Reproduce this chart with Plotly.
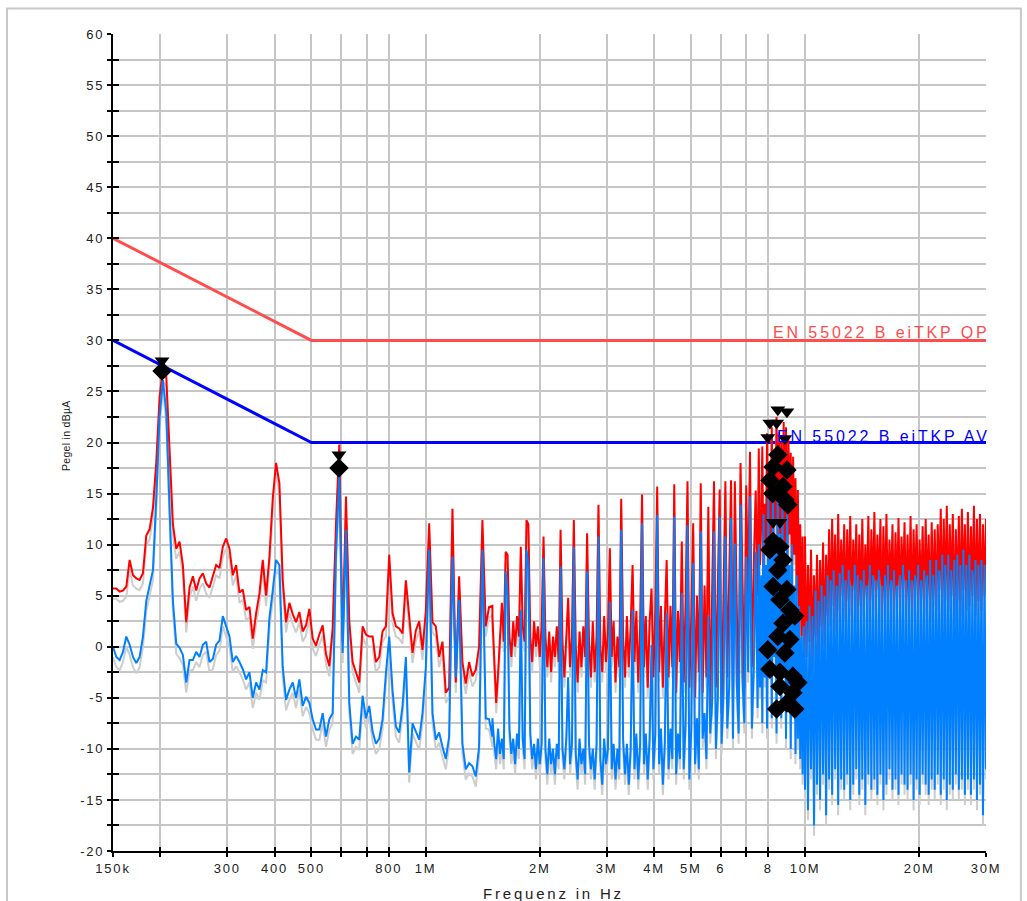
import numpy as np
import plotly.graph_objects as go

# ---------------- data ----------------
# measurement sweep segments (start Hz, end Hz); values are read per sweep point
seg_edges = [(150e3, 1.5e6), (1.5e6, 7.5e6), (7.5e6, 10e6), (10e6, 30e6)]

peak_seg1 = [5.7, 5.7, 5.4, 5.5, 5.9, 8.5, 7.0, 6.7, 6.55, 7.2,
             10.9, 11.5, 13.6, 18.0, 24.5, 27.1, 26.5, 18.5, 12.0, 9.6,
             10.3, 8.0, 2.4, 5.8, 6.9, 5.5, 6.7, 7.2, 6.2, 5.8,
             6.8, 8.0, 7.7, 9.8, 10.6, 9.6, 7.0, 8.0, 5.3, 5.6,
             3.6, 3.9, 0.8, 3.3, 5.2, 8.5, 5.0, 8.8, 14.5, 18.0,
             16.0, 6.5, 2.4, 4.3, 3.2, 2.4, 3.4, 1.5, 2.1, 3.7,
             0.8, 0.1, 1.2, 2.1, -0.7, -1.9, 1.8, 12.0, 19.8, 0.5,
             14.7, 2.5, -1.5, -2.6, -3.5, 2.0, 1.2, 1.0, 1.0, -1.5,
             -1.0, 1.5, 2.0, 9.0, 3.3, 2.0, 1.8, 1.3, 6.5, 3.0,
             -0.6, 1.6, 2.5, -0.3, 3.5, 12.1, 2.4, 2.0, -1.0, 0.5,
             -4.5, -4.0, 13.5, -3.5, 6.9, -1.5, -3.6, -1.5, -2.9, -2.25,
             0.0, 12.4, 2.0, 3.9, 4.0]
avg_seg1 = [0.0, -1.0, -1.3, -0.5, 1.0, 0.2, -1.0, -1.6, -1.0, 1.0,
            4.5, 6.0, 7.5, 14.5, 22.5, 26.1, 23.0, 13.5, 4.5, 0.3,
            -0.1, -0.8, -3.5, -1.3, -1.3, -0.5, -1.0, 0.2, 0.5, -1.5,
            -1.2, 0.2, 0.6, 3.0, 2.1, 1.0, -1.5, -0.9, -1.5, -2.2,
            -3.2, -2.5, -5.0, -3.5, -4.2, -2.3, -2.5, 2.8, 5.5, 8.5,
            8.0, -2.0, -5.2, -4.2, -3.5, -5.0, -3.2, -5.8, -4.9, -5.5,
            -7.1, -8.1, -8.1, -6.5, -8.8, -7.1, -6.5, 9.0, 16.7, -0.6,
            11.45, -5.5, -9.5, -8.8, -9.1, -4.8, -7.0, -5.8, -8.3, -9.5,
            -9.0, -7.1, -2.6, 1.0, -4.3, -7.8, -8.4, -5.8, -1.0, -12.3,
            -7.5, -8.4, -9.1, -6.5, -2.0, 9.5, -6.5, -9.1, -8.4, -9.8,
            -11.0, -8.8, 8.8, -3.0, 4.6, -9.5, -12.0, -11.4, -11.7, -12.7,
            -9.8, 9.5, -7.0, -7.1, -8.8]

peak_seg2 = [3.0, -2.0, -5.5, -2.6, 1.0, 4.3, 0.5, 9.3, 9.0, 1.0,
             -1.0, 2.5, 0.0, 3.0, 1.0, 9.8, 2.0, 0.5, 12.4, 12.0,
             1.0, -1.5, 2.5, 0.0, 2.0, -1.0, 2.0, 10.8, 1.0, -2.0,
             1.5, -2.5, 1.0, -1.0, 2.0, -1.5, 11.45, 0.5, -3.0, 1.5,
             4.8, -2.0, 1.0, 12.4, 0.0, -3.5, 1.5, -2.0, 2.0, -1.0,
             11.1, 0.5, -3.0, 2.5, -2.5, 1.0, 13.9, 0.0, -2.5, 3.0,
             -1.5, 1.5, 9.65, -1.0, 2.5, -3.5, 1.0, -2.0, 14.5, 1.0,
             -3.0, 3.0, -2.0, 2.0, 8.0, -1.5, 3.5, -3.5, 2.0, 14.9,
             -2.0, 3.0, -4.0, 2.5, 5.7, -3.0, 3.5, 15.7, -2.5, 4.0,
             -4.0, 2.5, 8.5, -3.0, 4.0, -2.0, 15.9, -4.5, 3.5, -1.5,
             10.3, -3.5, 4.5, 16.2, -4.0, 3.0, 12.1, -5.0, 5.0, -2.5,
             16.0, -4.5, 6.0, -3.0, 13.7, -6.0, 5.5, 16.2, -4.0, 7.0,
             15.4, -6.5, 6.0, 16.2, -3.0, 7.5, 16.3, -5.0, 16.2, 4.0,
             -5.5, 18.0, 6.0, -4.0, 15.8, 5.0, 19.1, -2.0, 8.0, 15.3,
             5.0]
avg_seg2 = [-7.0, -9.5, -11.0, -8.0, -10.5, -9.0, -11.0, 7.4, 5.0, -8.0,
            -10.5, -9.0, -11.5, -8.5, -10.0, 3.6, -9.0, -11.0, 9.5, 8.0,
            -8.5, -11.0, -9.5, -12.0, -9.0, -11.5, -9.5, 8.7, -10.0, -12.5,
            -9.0, -11.5, -10.0, -12.5, -9.5, -11.0, 7.85, -10.0, -12.0, -9.0,
            -3.0, -11.5, -9.5, 9.8, -10.5, -13.0, -9.0, -11.5, -10.0, -12.5,
            7.4, -9.5, -12.0, -10.0, -13.0, -9.5, 10.8, -11.0, -13.5, -9.0,
            -11.5, -10.0, 4.4, -12.0, -9.5, -13.0, -10.0, -12.0, 11.45, -9.0,
            -12.5, -9.5, -13.5, -10.0, 3.6, -12.0, -8.5, -13.0, -9.5, 12.1,
            -11.5, -8.5, -13.0, -9.0, 0.2, -12.0, -8.5, 12.9, -11.5, -8.0,
            -13.5, -9.5, 3.3, -12.0, -8.0, -11.0, 12.75, -12.5, -8.5, -11.0,
            5.25, -12.0, -7.5, 11.9, -13.0, -8.0, 8.2, -11.5, -7.0, -12.0,
            11.3, -9.0, -6.5, -11.0, 3.1, -8.5, -5.5, 11.3, -10.0, -5.0,
            12.75, -9.5, -4.5, 10.8, -8.0, -4.0, 12.6, -9.0, 10.1, -3.5,
            -8.5, 13.9, -3.0, -7.5, 8.8, -2.5, 14.7, -8.0, -2.0, 9.3,
            -6.0]

peak_seg3 = [5.0, 19.4, 8.0, 12.0, 19.6, 6.0, 14.0, 9.0, 20.9, 7.0,
             18.0, 10.0, 21.5, 8.0, 19.0, 12.0, 22.5, 9.0, 21.0, 11.0,
             20.0, 8.0, 22.0, 10.0, 21.5, 7.0, 20.5, 11.0, 19.0, 6.0,
             18.6, 9.0, 16.5, 5.0, 15.35, 3.0, 12.0, 1.0, 10.8, 0.0,
             4.0]
avg_seg3 = [-6.0, 10.0, -4.0, 7.0, -7.5, 13.0, -3.0, 8.0, -8.0, 15.0,
            -2.0, 9.0, -7.0, 16.0, -1.0, 10.0, -8.5, 15.5, -3.0, 11.0,
            -7.0, 14.0, -2.0, 9.0, -9.0, 13.0, -4.0, 8.0, -10.0, 10.0,
            -6.0, 6.0, -10.5, 7.0, -9.0, 4.0, -11.0, 1.0, -12.5, 2.0,
            -13.5]

peak_seg4 = [10.8, -1.0, 8.0, 0.5, 9.5, -2.0, 7.0, 1.0, 9.0, -1.5,
             8.5, 2.0, 10.2, 0.0, 9.0, 3.0, 11.5, 2.0, 12.5, 4.0,
             11.0, 1.5, 13.0, 3.5, 10.5, 5.0, 12.0, 2.5, 11.5, 4.5,
             12.8, 3.0, 10.5, 5.5, 12.0, 2.0, 11.0, 4.0, 12.5, 3.0,
             10.0, 5.0, 12.8, 2.5, 11.5, 4.5, 13.2, 3.5, 11.0, 5.5,
             12.5, 2.0, 11.8, 4.0, 13.0, 3.0, 10.5, 5.0, 12.0, 2.5,
             11.2, 4.5, 12.6, 3.5, 10.8, 5.5, 12.2, 3.0, 11.0, 4.0,
             12.8, 2.5, 11.5, 5.0, 12.0, 3.5, 10.5, 4.5, 11.8, 3.0,
             12.5, 5.0, 11.0, 2.5, 12.2, 4.0, 11.5, 3.5, 12.0, 5.5,
             13.5, 3.0, 12.5, 4.5, 13.8, 3.5, 12.0, 5.0, 13.0, 2.5,
             11.5, 4.5, 12.8, 3.0, 13.5, 5.5, 12.0, 3.5, 13.2, 4.0,
             11.8, 5.0, 13.8, 3.0, 12.5, 4.5, 13.0, 3.5, 12.0, 5.0,
             12.5]
avg_seg4 = [-14.0, 2.5, -16.0, 4.0, -12.0, 3.0, -17.5, 5.5, -13.5, 4.5,
            -15.0, 6.0, -12.5, 5.0, -16.5, 7.0, -13.0, 6.5, -14.5, 7.5,
            -12.0, 6.0, -15.5, 7.2, -13.0, 8.0, -14.0, 6.5, -12.5, 7.5,
            -15.0, 6.0, -13.5, 8.0, -12.0, 7.0, -14.5, 6.5, -13.0, 7.5,
            -15.5, 6.0, -12.5, 8.0, -14.0, 7.0, -13.0, 6.5, -14.5, 7.5,
            -12.5, 6.0, -15.0, 7.0, -13.5, 8.0, -12.0, 6.5, -14.0, 7.5,
            -13.0, 6.0, -14.5, 7.0, -12.5, 8.0, -13.5, 6.5, -14.0, 7.5,
            -12.5, 6.5, -15.0, 7.0, -13.0, 8.0, -14.5, 6.5, -12.5, 7.5,
            -13.5, 7.0, -14.5, 8.5, -13.0, 7.0, -14.0, 8.5, -12.5, 7.5,
            -14.5, 9.0, -13.0, 8.0, -15.0, 9.0, -13.5, 7.5, -14.0, 8.5,
            -12.5, 9.0, -14.0, 8.0, -13.0, 9.5, -14.5, 8.0, -13.0, 9.0,
            -14.5, 7.5, -13.0, 8.5, -15.0, 8.0, -13.5, 8.5, -16.5, 8.0,
            -12.0]

# limit lines EN 55022 B
limit_freq = [150e3, 500e3, 30e6]
limit_qp = [40, 30, 30]
limit_av = [30, 20, 20]
limit_names = ["EN 55022 B eiTKP QP", "EN 55022 B eiTKP AV"]

# final measurement markers (peak: triangles, average: diamonds)
pk_mark_freq = [202e3, 591e3, 8.48e6, 8.96e6, 8.08e6, 8.42e6, 7.98e6, 8.85e6,
                8.24e6, 8.59e6]
pk_mark_val = [28.0, 18.8, 23.2, 23.0, 21.9, 21.9, 20.5, 20.4, 12.2, 12.2]
av_mark_freq = [202e3, 591e3, 8.48e6, 8.24e6, 8.96e6, 8.08e6, 8.75e6, 8.22e6,
                8.85e6, 9.01e6, 8.24e6, 8.59e6, 8.08e6, 8.75e6, 8.48e6, 8.24e6,
                8.96e6, 8.59e6, 9.12e6, 9.4e6, 8.75e6, 8.48e6, 9.12e6, 7.98e6,
                8.85e6, 8.08e6, 8.59e6, 9.29e6, 9.58e6, 8.59e6, 9.29e6, 8.42e6,
                9.4e6, 8.96e6]
av_mark_val = [27.0, 17.5, 18.8, 17.6, 17.3, 16.3, 15.7, 15.0,
               14.4, 13.9, 10.3, 9.8, 9.5, 8.5, 7.5, 5.9,
               5.6, 4.6, 3.6, 3.0, 2.3, 1.0, 0.7, -0.3,
               -0.6, -2.2, -2.5, -2.9, -3.5, -3.9, -4.5, -6.1,
               -6.1, -5.5]

x_tickvals = [150e3, 200e3, 300e3, 400e3, 500e3, 600e3, 700e3, 800e3, 1e6,
              2e6, 3e6, 4e6, 5e6, 6e6, 7e6, 8e6, 10e6, 20e6, 30e6]
x_ticktext = ["150k", "", "300", "400", "500", "", "", "800", "1M",
              "2M", "3M", "4M", "5M", "6", "", "8", "10M", "20M", "30M"]
y_tickvals = [-20, -15, -10, -5, 0, 5, 10, 15, 20, 25, 30, 35, 40, 45, 50, 55, 60]
y_ticktext = ["-20", "-15", "-10", "-5", "0", "5", "10", "15", "20", "25",
              "30", "35", "40", "45", "50", "55", "60"]

# ---------------- build ----------------
def spaced(text, px):
    return f'<span style="letter-spacing:{px}px">{text}</span>' if text else text

peak_segs = [peak_seg1, peak_seg2, peak_seg3, peak_seg4]
avg_segs = [avg_seg1, avg_seg2, avg_seg3, avg_seg4]
freq = np.concatenate([np.geomspace(a, b, len(v)) for (a, b), v in zip(seg_edges, peak_segs)])
peak = np.concatenate(peak_segs)
avg = np.concatenate(avg_segs)

FONT = "Liberation Sans, Arial, sans-serif"
GRID = "#c6c6c6"
TXT = "#222222"
SHADOW_DB = 1.0

fig = go.Figure()
# base subplot carries the limit lines
fig.add_trace(go.Scatter(x=limit_freq, y=limit_qp, mode="lines",
                         line=dict(color="#ff4d4d", width=3)))
fig.add_trace(go.Scatter(x=limit_freq, y=limit_av, mode="lines",
                         line=dict(color="#0000ff", width=3)))
# gray shadows (overlay axis y2 displaced slightly downwards)
fig.add_trace(go.Scatter(x=freq, y=peak, mode="lines", yaxis="y2",
                         line=dict(color="#cdcdcd", width=2), hoverinfo="skip"))
fig.add_trace(go.Scatter(x=freq, y=avg, mode="lines", yaxis="y2",
                         line=dict(color="#cdcdcd", width=2), hoverinfo="skip"))
# measurements on overlay y4 (same scale as y) above the shadows
fig.add_trace(go.Scatter(x=freq, y=peak, mode="lines", yaxis="y4",
                         line=dict(color="#ff0000", width=2)))
fig.add_trace(go.Scatter(x=freq, y=avg, mode="lines", yaxis="y4",
                         line=dict(color="#0080ff", width=2)))
fig.add_trace(go.Scatter(x=av_mark_freq, y=av_mark_val, mode="markers", yaxis="y4",
                         marker=dict(symbol="diamond", size=15, color="black")))
fig.add_trace(go.Scatter(x=pk_mark_freq, y=pk_mark_val, mode="markers", yaxis="y4",
                         marker=dict(symbol="triangle-down", size=13, color="black")))
# carrier for the inner tick overlay axes
fig.add_trace(go.Scatter(x=[None], y=[None], xaxis="x2", yaxis="y3", mode="lines"))

xrange = [np.log10(150e3), np.log10(30e6)]
fig.update_layout(
    width=1027, height=901,
    margin=dict(l=113, r=41, t=34, b=50),
    paper_bgcolor="white", plot_bgcolor="white",
    showlegend=False,
    font=dict(family=FONT, color=TXT),
    xaxis=dict(type="log", range=xrange, tickvals=x_tickvals,
               ticktext=[spaced(t, 1.8) for t in x_ticktext],
               showgrid=True, gridcolor=GRID, gridwidth=1.5,
               showline=True, linecolor="black", linewidth=2,
               ticks="outside", ticklen=4, tickwidth=2, tickcolor="black",
               tickfont=dict(family=FONT, size=13, color=TXT),
               zeroline=False),
    xaxis2=dict(type="log", range=xrange, tickvals=x_tickvals, overlaying="x",
                anchor="y3", showticklabels=False, showgrid=False, showline=False,
                ticks="inside", ticklen=4, tickwidth=2, tickcolor="black", zeroline=False),
    yaxis=dict(range=[-20, 60], tickvals=y_tickvals,
               ticktext=[spaced(t, 1.8) for t in y_ticktext],
               showgrid=True, gridcolor=GRID, gridwidth=1.5,
               showline=True, linecolor="black", linewidth=2,
               ticks="outside", ticklen=4, tickwidth=2, tickcolor="black",
               tickfont=dict(family=FONT, size=13, color=TXT),
               zeroline=False,
               minor=dict(dtick=2.5, showgrid=True, gridcolor=GRID, gridwidth=1.5,
                          ticks="outside", ticklen=4, tickwidth=2, tickcolor="black")),
    yaxis2=dict(range=[-20 + SHADOW_DB, 60 + SHADOW_DB], overlaying="y", visible=False),
    yaxis3=dict(range=[-20, 60], dtick=2.5, overlaying="y", anchor="x2",
                showticklabels=False, showgrid=False, showline=False,
                ticks="inside", ticklen=6, tickwidth=2, tickcolor="black", zeroline=False),
    yaxis4=dict(range=[-20, 60], overlaying="y", visible=False),
)

fig.add_annotation(text=spaced("Pegel in dBµA", 0.3), xref="paper", yref="paper",
                   x=-0.054, y=0.509, xanchor="center", yanchor="middle",
                   textangle=-90, showarrow=False, font=dict(size=10.5, color=TXT))
fig.add_annotation(text=spaced("Frequenz in Hz", 2.8), xref="paper", yref="paper",
                   x=0.505, y=-0.0515, xanchor="center", yanchor="middle",
                   showarrow=False, font=dict(size=15, color=TXT))
fig.add_annotation(text=spaced(limit_names[0], 2.9), x=np.log10(30e6), y=limit_qp[-1],
                   xanchor="right", yanchor="bottom", showarrow=False, yshift=-3, xshift=6,
                   font=dict(size=16, color="#ff4d4d"))
fig.add_annotation(text=spaced(limit_names[1], 2.9), x=np.log10(30e6), y=limit_av[-1],
                   xanchor="right", yanchor="bottom", showarrow=False, yshift=-4, xshift=6,
                   font=dict(size=16, color="#0000ff"))
# outer frame
fig.add_shape(type="rect", xref="paper", yref="paper", x0=-0.1214, x1=1.040,
              y0=-0.08, y1=1.0312, line=dict(color="#c8c8c8", width=2), layer="below")

fig.write_html("out.html", config={"displayModeBar": False},
               post_script="document.body.style.margin='0';")
